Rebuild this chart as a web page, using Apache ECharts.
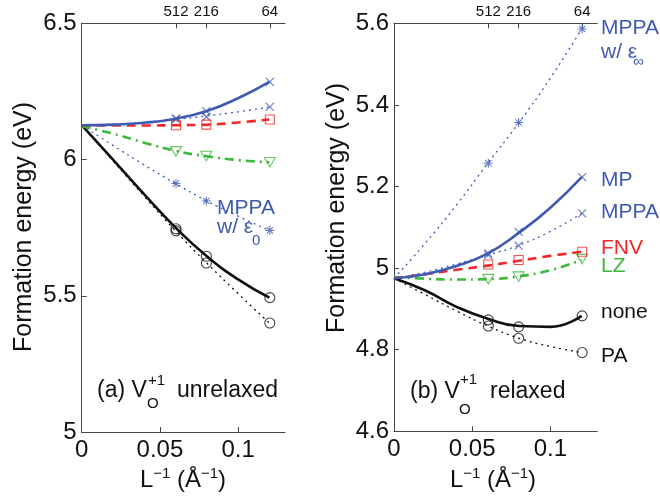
<!DOCTYPE html>
<html><head><meta charset="utf-8">
<script src="https://cdn.jsdelivr.net/npm/echarts@6/dist/echarts.min.js"></script>
<style>html,body{margin:0;padding:0;background:#fff}#c{width:660px;height:498px}</style>
</head><body><div id="c"></div>
<script>
// Supercell sizes (top axis) and their L^-1 positions
const sizeX = [0.0603, 0.0797, 0.1203];
const sizeLabels = ['512', '216', '64'];
// x positions of fitted curves
const fitX = [0, 0.02, 0.04, 0.06, 0.08, 0.10, 0.12];

// (a) unrelaxed: data points at sizeX
const aMP    = [6.151, 6.178, 6.285];
const aMPPA  = [6.148, 6.157, 6.193];
const aFNV   = [6.126, 6.128, 6.147];
const aLZ    = [6.030, 6.013, 5.990];
const aEps0  = [5.912, 5.848, 5.740];
const aNone  = [5.746, 5.645, 5.493];
const aPA    = [5.738, 5.620, 5.400];
// (a) fitted curves at fitX
const aMPfit   = [6.126, 6.128, 6.135, 6.150, 6.178, 6.225, 6.285];
const aMPPAfit = [6.126, 6.128, 6.136, 6.147, 6.160, 6.175, 6.193];
const aFNVfit  = [6.126, 6.125, 6.125, 6.126, 6.128, 6.136, 6.147];
const aLZfit   = [6.122, 6.095, 6.062, 6.032, 6.012, 5.998, 5.990];
const aEps0fit = [6.126, 6.052, 5.980, 5.912, 5.848, 5.792, 5.740];
const aNonefit = [6.126, 6.000, 5.872, 5.750, 5.645, 5.560, 5.493];
const aPAfit   = [6.126, 5.995, 5.865, 5.738, 5.620, 5.508, 5.400];

// (b) relaxed: data points at sizeX
const bEpsInf = [5.257, 5.357, 5.586];
const bMP     = [5.036, 5.089, 5.223];
const bMPPA   = [5.032, 5.055, 5.134];
const bFNV    = [5.009, 5.020, 5.040];
const bLZ     = [4.973, 4.979, 5.022];
const bNone   = [4.873, 4.856, 4.883];
const bPA     = [4.858, 4.828, 4.793];
// (b) fitted curves at fitX
const bEpsInffit = [4.975, 5.061, 5.155, 5.257, 5.357, 5.466, 5.586];
const bMPfit     = [4.975, 4.985, 5.005, 5.036, 5.087, 5.148, 5.223];
const bMPPAfit   = [4.975, 4.990, 5.010, 5.032, 5.056, 5.090, 5.134];
const bFNVfit    = [4.975, 4.985, 4.996, 5.006, 5.018, 5.030, 5.040];
const bLZfit     = [4.978, 4.974, 4.972, 4.973, 4.980, 4.995, 5.020];
const bNonefit   = [4.975, 4.945, 4.905, 4.876, 4.858, 4.856, 4.883];
const bPAfit     = [4.975, 4.935, 4.895, 4.858, 4.828, 4.808, 4.793];

const BLUE = '#3f5bb0', RED = '#f02828', GREEN = '#3cb83c', BLACK = '#111111';
const FONT = "'Liberation Sans', Arial, Helvetica, sans-serif";
const SOLID = 'solid', DOT = [2, 4], DASH = [9, 6], DASHDOT = [9, 5, 2, 5];
const SYM = {
  x: 'path://M0,0L10,10M10,0L0,10',
  star: 'path://M5,0L5,10M0,5L10,5M1.5,1.5L8.5,8.5M8.5,1.5L1.5,8.5',
  sq: 'rect',
  tri: 'path://M0,0L10,0L5,8.66Z',
  circ: 'circle'
};

function fit(g, ys, color, type, width) {
  return { type: 'line', xAxisIndex: g * 2, yAxisIndex: g * 2,
    data: fitX.map((x, i) => [x, ys[i]]), smooth: 0.5,
    showSymbol: false, silent: true, z: 2,
    lineStyle: { color: color, width: width, type: type } };
}
function pts(g, ys, sym, color, size) {
  return { type: 'scatter', xAxisIndex: g * 2, yAxisIndex: g * 2,
    data: sizeX.map((x, i) => [x, ys[i]]), symbol: SYM[sym], symbolSize: size,
    symbolKeepAspect: true, silent: true, z: 3,
    itemStyle: { color: 'none', borderColor: color, borderWidth: 1.1 } };
}

const series = [
  fit(0, aPAfit, BLACK, DOT, 1.3), fit(0, aNonefit, BLACK, SOLID, 2.6),
  fit(0, aEps0fit, BLUE, DOT, 1.3), fit(0, aLZfit, GREEN, DASHDOT, 2.6),
  fit(0, aMPPAfit, BLUE, DOT, 1.3), fit(0, aFNVfit, RED, DASH, 2.6),
  fit(0, aMPfit, BLUE, SOLID, 2.6),
  pts(0, aPA, 'circ', BLACK, 10), pts(0, aNone, 'circ', BLACK, 10),
  pts(0, aEps0, 'star', BLUE, 9), pts(0, aLZ, 'tri', GREEN, 11),
  pts(0, aMPPA, 'x', BLUE, 8), pts(0, aFNV, 'sq', RED, 9),
  pts(0, aMP, 'x', BLUE, 8),

  fit(1, bPAfit, BLACK, DOT, 1.3), fit(1, bNonefit, BLACK, SOLID, 2.6),
  fit(1, bEpsInffit, BLUE, DOT, 1.3), fit(1, bLZfit, GREEN, DASHDOT, 2.6),
  fit(1, bMPPAfit, BLUE, DOT, 1.3), fit(1, bFNVfit, RED, DASH, 2.6),
  fit(1, bMPfit, BLUE, SOLID, 2.6),
  pts(1, bPA, 'circ', BLACK, 10), pts(1, bNone, 'circ', BLACK, 10),
  pts(1, bEpsInf, 'star', BLUE, 9), pts(1, bLZ, 'tri', GREEN, 11),
  pts(1, bMPPA, 'x', BLUE, 8), pts(1, bFNV, 'sq', RED, 9),
  pts(1, bMP, 'x', BLUE, 8)
];

const AX = '#444';
function xAxes(g) {
  return [
    { gridIndex: g, type: 'value', min: 0, max: 0.13, interval: 0.05, position: 'bottom',
      axisLine: { show: true, lineStyle: { color: AX, width: 1 } },
      axisTick: { show: true, inside: true, length: 5, lineStyle: { color: AX } },
      axisLabel: { fontSize: 24, color: BLACK, fontFamily: FONT, margin: 6, showMaxLabel: false },
      splitLine: { show: false } },
    { gridIndex: g, type: 'value', min: 0, max: 0.13, position: 'top',
      axisLine: { show: true, lineStyle: { color: AX, width: 1 } },
      axisTick: { show: true, inside: true, length: 5, customValues: sizeX, lineStyle: { color: AX } },
      axisLabel: { customValues: sizeX, fontSize: 15, color: BLACK, fontFamily: FONT, margin: 4,
        formatter: v => sizeLabels[sizeX.indexOf(v)] },
      splitLine: { show: false } }
  ];
}
function yAxes(g, min, max, interval) {
  return [
    { gridIndex: g, type: 'value', min: min, max: max, interval: interval, position: 'left',
      axisLine: { show: true, lineStyle: { color: AX, width: 1 } },
      axisTick: { show: true, inside: true, length: 5, lineStyle: { color: AX } },
      axisLabel: { fontSize: 24, color: BLACK, fontFamily: FONT, margin: 5 },
      splitLine: { show: false } },
    { gridIndex: g, type: 'value', min: min, max: max, position: 'right',
      axisLine: { show: true, lineStyle: { color: AX, width: 1 } },
      axisTick: { show: false }, axisLabel: { show: false }, splitLine: { show: false } }
  ];
}

function txt(text, x, y, size, color, extra) {
  return Object.assign({ type: 'text', x: x, y: y, silent: true, z: 10,
    style: { text: text, fontSize: size, fontFamily: FONT, fill: color,
      align: 'left', verticalAlign: 'middle' } }, extra || {});
}
function xTitle(cx) {
  return { type: 'text', x: cx, y: 480, silent: true, z: 10,
    style: { text: '{n|L}{s|−1}{n| (Å}{s|−1}{n|)}', align: 'center', verticalAlign: 'middle',
      fontFamily: FONT, fill: BLACK,
      rich: { n: { fontSize: 24, lineHeight: 28, fontFamily: FONT, fill: BLACK },
              s: { fontSize: 15, lineHeight: 15, verticalAlign: 'top', fontFamily: FONT, fill: BLACK } } } };
}

const graphic = [
  Object.assign(txt('Formation energy (eV)', 24, 227, 25, BLACK), { rotation: Math.PI / 2 }),
  Object.assign(txt('Formation energy (eV)', 337, 208, 25, BLACK), { rotation: Math.PI / 2 }),
  xTitle(183), xTitle(493),
  // panel (a) annotations
  txt('MPPA', 217, 208, 21, BLUE),
  txt('w/ ε', 217, 227, 21, BLUE),
  txt('0', 252, 241, 15, BLUE),
  txt('(a) V', 97, 391, 23, BLACK),
  txt('+1', 148, 381, 15, BLACK),
  txt('O', 147, 404, 15, BLACK),
  txt('unrelaxed', 177, 391, 23, BLACK),
  // panel (b) annotations
  txt('(b) V', 410, 392, 23, BLACK),
  txt('+1', 460, 380, 15, BLACK),
  txt('O', 459, 410, 15, BLACK),
  txt('relaxed', 490, 392, 23, BLACK),
  txt('MPPA', 601, 28, 21, BLUE),
  txt('w/ ε', 601, 52, 21, BLUE),
  txt('∞', 633, 62, 15, BLUE),
  txt('MP', 601, 180, 21, BLUE),
  txt('MPPA', 601, 212, 21, BLUE),
  txt('FNV', 601, 248, 21, RED),
  txt('LZ', 601, 266, 21, GREEN),
  txt('none', 601, 312, 21, BLACK),
  txt('PA', 601, 356, 21, BLACK)
];
graphic[0].style.align = 'center'; graphic[1].style.align = 'center';

const chart = echarts.init(document.getElementById('c'), null, { renderer: 'canvas' });
chart.setOption({
  backgroundColor: '#fff',
  animation: false,
  grid: [
    { left: 81.7, top: 23.3, width: 203.3, height: 408.7 },
    { left: 394, top: 23.3, width: 203.3, height: 408 }
  ],
  xAxis: xAxes(0).concat(xAxes(1)),
  yAxis: yAxes(0, 5, 6.5, 0.5).concat(yAxes(1, 4.6, 5.6, 0.2)),
  series: series,
  graphic: graphic
});
</script>
</body></html>
